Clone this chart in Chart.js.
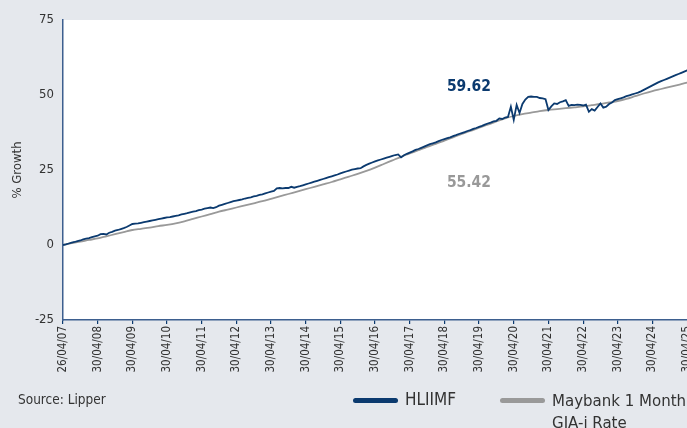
<!DOCTYPE html>
<html>
<head>
<meta charset="utf-8">
<script src="https://cdn.jsdelivr.net/npm/chart.js@4/dist/chart.umd.min.js"></script>
<style>
html,body{margin:0;padding:0;background:#e5e8ed;overflow:hidden;width:687px;height:428px;}
#wrap{position:absolute;left:0;top:0;width:740px;height:428px;}
.txt{position:absolute;font-family:"Liberation Sans Narrow","DejaVu Sans Condensed",sans-serif;color:#333;white-space:nowrap;}
.sw{position:absolute;height:5px;border-radius:3px;}
</style>
</head>
<body>
<div id="wrap"><canvas id="c" width="740" height="428"></canvas></div>
<div class="txt" style="left:18px;top:391px;font-size:13.5px;">Source: Lipper</div>
<div class="sw" style="left:353px;top:398px;width:45px;background:#0b3a6f;"></div>
<div class="txt" style="left:405px;top:389px;font-size:17px;">HLIIMF</div>
<div class="sw" style="left:500px;top:398px;width:45px;background:#999;"></div>
<div class="txt" style="left:552px;top:389px;font-size:16.7px;line-height:22px;">Maybank 1 Month<br>GIA-i Rate</div>
<script>
// x positions are months since 26/04/07
const tickMonths = [0,12,24,36,48,60,72,84,96,108,120,132,144,156,168,180,192,204,216];
const tickLabels = ['26/04/07','30/04/08','30/04/09','30/04/10','30/04/11','30/04/12','30/04/13','30/04/14','30/04/15','30/04/16','30/04/17','30/04/18','30/04/19','30/04/20','30/04/21','30/04/22','30/04/23','30/04/24','30/04/25'];

// HLIIMF, monthly, months 0..221
const fundValues = [
0.0,0.2,0.5,0.8,1.0,1.3,1.5,1.9,2.1,2.3,2.6,2.9,
3.1,3.6,3.7,3.5,4.1,4.4,4.8,5.0,5.3,5.6,6.0,6.5,
7.0,7.1,7.2,7.4,7.6,7.8,8.0,8.2,8.4,8.6,8.8,9.0,
9.2,9.3,9.5,9.7,9.9,10.2,10.4,10.6,10.9,11.1,11.3,11.6,
11.8,12.1,12.3,12.5,12.3,12.6,13.1,13.4,13.7,14.0,14.3,14.6,
14.8,15.0,15.2,15.5,15.7,15.9,16.2,16.4,16.7,16.9,17.2,17.5,
17.8,18.0,18.9,19.0,18.9,19.0,19.0,19.4,19.1,19.4,19.6,19.9,
20.2,20.5,20.8,21.1,21.4,21.7,22.0,22.3,22.6,22.9,23.2,23.5,
23.9,24.2,24.5,24.8,25.1,25.3,25.5,25.6,26.2,26.7,27.1,27.5,
27.9,28.2,28.5,28.8,29.1,29.4,29.7,30.0,30.2,29.2,29.9,30.4,
30.8,31.2,31.7,32.0,32.4,32.8,33.2,33.6,33.9,34.2,34.6,35.0,
35.3,35.6,35.9,36.3,36.6,37.0,37.3,37.6,38.0,38.3,38.7,39.0,
39.4,39.7,40.1,40.5,40.8,41.2,41.4,42.2,42.0,42.5,42.7,46.1,
41.7,46.7,44.0,47.0,48.5,49.4,49.5,49.4,49.4,49.0,48.9,48.6,
45.0,46.2,47.2,47.0,47.6,47.9,48.3,46.4,46.7,46.6,46.8,46.7,
46.5,46.8,44.4,45.3,44.8,46.0,47.2,45.8,46.1,47.0,47.5,48.3,
48.6,48.9,49.2,49.6,49.9,50.2,50.5,50.8,51.2,51.7,52.2,52.7,
53.2,53.7,54.2,54.6,55.0,55.4,55.8,56.2,56.6,57.0,57.4,57.8,
58.2,58.5,58.8,59.1,59.4,59.62
];

// Maybank 1 Month GIA-i Rate, quarterly
const benchMonths = [0,3,6,9,12,15,18,21,24,27,30,33,36,39,42,45,48,51,54,57,60,63,66,69,72,75,78,81,84,87,90,93,96,99,102,105,108,111,114,117,120,123,126,129,132,135,138,141,144,147,150,153,156,159,162,165,168,171,174,177,180,183,186,189,192,195,198,201,204,207,210,213,216,219,221];
const benchValues = [0.0,0.6,1.1,1.7,2.2,2.9,3.6,4.3,5.0,5.4,5.8,6.3,6.7,7.2,7.9,8.7,9.5,10.3,11.1,11.8,12.5,13.2,13.9,14.6,15.4,16.2,17.0,17.8,18.6,19.4,20.2,21.0,21.9,22.8,23.7,24.7,25.8,27.0,28.2,29.4,30.5,31.6,32.7,33.7,34.8,35.9,37.0,38.0,39.1,40.1,41.2,42.2,43.0,43.6,44.1,44.6,45.0,45.3,45.6,45.9,46.2,46.6,47.0,47.5,48.0,48.7,49.6,50.5,51.3,52.0,52.7,53.4,54.1,55.0,55.42];

const endLabels = [
  {text:'59.62', month:140.5, value:52.7, color:'#0b3a6f'},
  {text:'55.42', month:140.5, value:20.7, color:'#999999'}
];

const NAVY = '#0b3a6f';
const AXIS = '#3d5f8f';
const FONT = '"Liberation Sans Narrow","DejaVu Sans Condensed",sans-serif';

const fundData = fundValues.map((v,i)=>({x:i,y:v}));
const benchData = benchValues.map((v,i)=>({x:benchMonths[i],y:v}));

const plotBg = {
  id:'plotBg',
  beforeDraw(chart){
    const {ctx, chartArea:a} = chart;
    ctx.save(); ctx.fillStyle='#ffffff';
    ctx.fillRect(a.left,a.top,a.right-a.left,a.bottom-a.top);
    ctx.restore();
  }
};
const labelsPlugin = {
  id:'endLabels',
  afterDatasetsDraw(chart){
    const {ctx, scales:{x,y}} = chart;
    ctx.save();
    ctx.font = 'bold 15.5px ' + FONT;
    ctx.textAlign='center'; ctx.textBaseline='middle';
    endLabels.forEach(l=>{
      ctx.fillStyle = l.color;
      ctx.fillText(l.text, x.getPixelForValue(l.month), y.getPixelForValue(l.value));
    });
    ctx.restore();
  }
};

new Chart(document.getElementById('c'), {
  type:'line',
  data:{datasets:[
    {label:'Maybank 1 Month GIA-i Rate', data:benchData, borderColor:'#999999', borderWidth:1.8, pointRadius:0, tension:0.3, order:2},
    {label:'HLIIMF', data:fundData, borderColor:NAVY, borderWidth:1.8, pointRadius:0, tension:0, order:1}
  ]},
  options:{
    responsive:false, animation:false,
    layout:{padding:{top:20,left:0,right:0,bottom:0}},
    plugins:{legend:{display:false}, tooltip:{enabled:false}},
    scales:{
      x:{
        type:'linear', min:0, max:234.3,
        afterBuildTicks(s){ s.ticks = tickMonths.map(v=>({value:v})); },
        afterFit(s){ s.height = 108; },
        ticks:{
          autoSkip:false, maxRotation:90, minRotation:90, padding:2,
          color:'#333', font:{family:FONT, size:11.5},
          callback:(v,i)=>tickLabels[i]
        },
        grid:{drawOnChartArea:false, drawTicks:true, tickLength:4, color:NAVY, lineWidth:1.2},
        border:{display:true, color:AXIS, width:1.5}
      },
      y:{
        min:-25, max:75,
        afterBuildTicks(s){ s.ticks=[-25,0,25,50,75].map(v=>({value:v})); },
        afterFit(s){ s.width = 63; },
        ticks:{color:'#333', font:{family:FONT, size:13}, padding:9},
        grid:{drawOnChartArea:false, drawTicks:false},
        border:{display:true, color:AXIS, width:1.5},
        title:{display:true, text:'% Growth', color:'#333', font:{family:FONT, size:13}, padding:{top:10,bottom:0}}
      }
    }
  },
  plugins:[plotBg, labelsPlugin]
});
</script>
</body>
</html>
